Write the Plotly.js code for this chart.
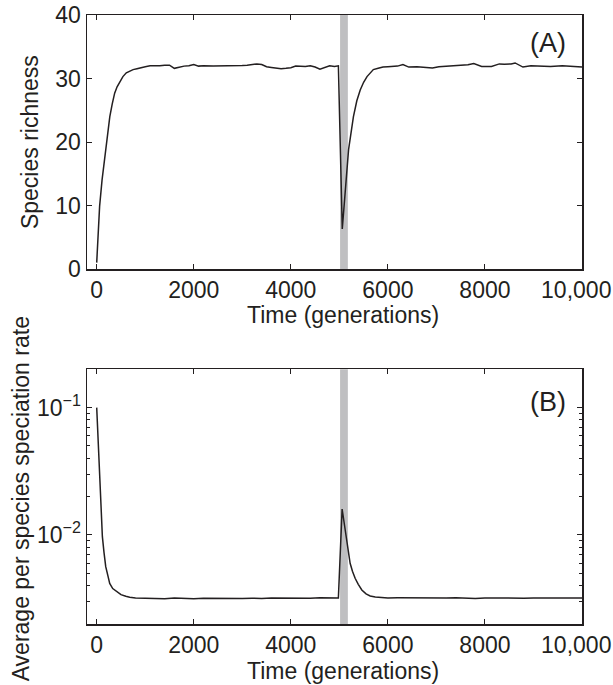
<!DOCTYPE html>
<html>
<head>
<meta charset="utf-8">
<script src="https://cdn.plot.ly/plotly-3.0.1.min.js"></script>
<style>html,body{margin:0;padding:0;background:#fff;}#chart{width:613px;height:685px;}</style>
</head>
<body>
<div id="chart"></div>
<script>
// Panel A: species richness over time
const timeA = [0,60,110,165,215,270,320,370,420,475,540,610,680,750,830,920,1000,1100,1200,1300,1400,1500,1600,1700,1800,1900,2000,2100,2200,2400,2600,2800,3000,3100,3200,3300,3400,3500,3600,3700,3800,3900,4000,4100,4200,4300,4400,4500,4600,4700,4800,4900,4980,5060,5120,5190,5290,5360,5430,5500,5570,5640,5700,5800,5900,6000,6107,6200,6310,6431,6600,6756,6918,7050,7161,7300,7405,7567,7650,7770,7932,8135,8297,8400,8540,8621,8783,8946,9150,9351,9594,9838,10000];
const richness = [1,9.9,14,17.7,21,24,26,27.7,28.7,29.5,30.3,30.9,31.2,31.4,31.55,31.65,31.85,32.0,31.95,32.0,32.1,32.1,31.6,31.8,31.95,32.0,32.2,31.95,32.0,31.95,31.95,31.95,32.05,32.1,32.15,32.3,32.2,31.85,31.75,31.65,31.55,31.6,31.7,31.95,31.9,31.9,32.0,31.8,31.45,31.75,32.0,31.9,32.0,6.3,12.5,18.8,24.0,26.5,28.2,29.4,30.3,30.9,31.4,31.6,31.8,31.85,31.9,31.95,32.2,31.8,31.85,31.75,31.65,31.85,31.9,32.0,32.05,32.05,32.15,32.35,31.9,31.9,32.3,32.25,32.3,32.45,31.8,32.0,31.95,31.9,32.0,31.95,31.8];

// Panel B: average per species speciation rate
const timeB = [0,25,48,65,83,117,150,186,230,268,330,406,500,600,681,800,1000,1200,1400,1600,1800,2000,2200,2400,2600,2800,3000,3200,3400,3600,3800,4000,4200,4400,4600,4800,4980,5057,5100,5140,5180,5222,5270,5325,5390,5463,5550,5635,5740,5841,6000,6200,6400,6600,6800,7000,7200,7400,7600,7800,8000,8200,8400,8600,8800,9000,9200,9400,9600,9800,10000];
const rate = [0.1,0.06,0.0366,0.022,0.0148,0.0097,0.0073,0.00564,0.0048,0.00417,0.0038,0.00359,0.0034,0.0033,0.00324,0.0032,0.00318,0.00319,0.00316,0.0032,0.00317,0.00316,0.00319,0.00318,0.0032,0.00317,0.00317,0.00319,0.00317,0.0032,0.00319,0.00321,0.00318,0.00318,0.00322,0.00319,0.0032,0.016,0.0125,0.0091,0.0073,0.006,0.0052,0.00457,0.0041,0.0037,0.00345,0.00332,0.00326,0.00323,0.0032,0.00321,0.0032,0.00319,0.0032,0.00318,0.0032,0.00321,0.00319,0.00317,0.0032,0.00319,0.00318,0.00317,0.00319,0.0032,0.00321,0.0032,0.00319,0.0032,0.0032];

// Event band (generations)
const eventStart = 5015, eventEnd = 5175;

// Tick labels
const xTickVals = [0,2000,4000,6000,8000,10000];
const xTickText = ['0','2000','4000','6000','8000','10,000\u2002'];
const yATickVals = [0,10,20,30,40];
const yBTickVals = [0.01,0.1];
const yBTickText = ['10<sup>\u22122</sup>','10<sup>\u22121</sup>'];
const yBMinorVals = [0.002,0.003,0.004,0.005,0.006,0.007,0.008,0.009,0.02,0.03,0.04,0.05,0.06,0.07,0.08,0.09,0.2];

const ink = '#231f20';
const FONT = 'Liberation Sans, Arial, sans-serif';

const traces = [
  {x: timeA, y: richness, type:'scatter', mode:'lines', xaxis:'x', yaxis:'y',
   line:{color:ink, width:1.5}, hoverinfo:'skip'},
  {x: timeB, y: rate, type:'scatter', mode:'lines', xaxis:'x2', yaxis:'y2',
   line:{color:ink, width:1.5}, hoverinfo:'skip'}
];

const axCommon = {
  showgrid:false, zeroline:false, showline:true, linecolor:ink, linewidth:1.5,
  mirror:'ticks', ticks:'inside', ticklen:5, tickwidth:1, tickcolor:ink,
  ticklabeloverflow:'allow',
  tickfont:{family:FONT, size:23, color:ink}
};

const layout = {
  width:613, height:685,
  margin:{l:87, r:31, t:15, b:61},
  paper_bgcolor:'#fff', plot_bgcolor:'#fff',
  showlegend:false,
  font:{family:FONT, color:ink},
  xaxis: Object.assign({}, axCommon, {domain:[0,1], anchor:'y', range:[-200,10000],
     tickmode:'array', tickvals:xTickVals, ticktext:xTickText}),
  yaxis: Object.assign({}, axCommon, {domain:[0.5829,1], anchor:'x', range:[0,40],
     tickmode:'array', tickvals:yATickVals}),
  xaxis2: Object.assign({}, axCommon, {domain:[0,1], anchor:'y2', range:[-200,10000],
     tickmode:'array', tickvals:xTickVals, ticktext:xTickText}),
  yaxis2: Object.assign({}, axCommon, {domain:[0,0.4182], anchor:'x2', type:'log',
     range:[Math.log10(0.002), Math.log10(0.2)],
     tickmode:'array', tickvals:yBTickVals, ticktext:yBTickText,
     minor:{tickmode:'array', tickvals:yBMinorVals, ticks:'inside', ticklen:3, tickcolor:ink, tickwidth:1}}),
  shapes: [
    {type:'rect', xref:'x', yref:'y domain', x0:eventStart, x1:eventEnd, y0:0, y1:1,
     fillcolor:'#bfbfc1', line:{width:0}, layer:'below'},
    {type:'rect', xref:'x2', yref:'y2 domain', x0:eventStart, x1:eventEnd, y0:0, y1:1,
     fillcolor:'#bfbfc1', line:{width:0}, layer:'below'}
  ],
  annotations: [
    {text:'(A)', xref:'paper', yref:'paper', x:0.931, y:0.954, xanchor:'center', yanchor:'middle',
     showarrow:false, font:{family:FONT, size:27, color:ink}},
    {text:'(B)', xref:'paper', yref:'paper', x:0.931, y:0.365, xanchor:'center', yanchor:'middle',
     showarrow:false, font:{family:FONT, size:27, color:ink}},
    {text:'Time (generations)', xref:'paper', yref:'paper', x:0.517, y:0.5066, xanchor:'center', yanchor:'middle',
     showarrow:false, font:{family:FONT, size:23, color:ink}},
    {text:'Time (generations)', xref:'paper', yref:'paper', x:0.517, y:-0.0764, xanchor:'center', yanchor:'middle',
     showarrow:false, font:{family:FONT, size:23, color:ink}},
    {text:'Species richness', xref:'paper', yref:'paper', x:-0.115, y:0.7915, xanchor:'center', yanchor:'middle',
     textangle:-90, showarrow:false, font:{family:FONT, size:23, color:ink}},
    {text:'Average per species speciation rate', xref:'paper', yref:'paper', x:-0.133, y:0.205, xanchor:'center', yanchor:'middle',
     textangle:-90, showarrow:false, font:{family:FONT, size:23, color:ink}}
  ]
};

Plotly.newPlot('chart', traces, layout, {staticPlot:true, displayModeBar:false});
</script>
</body>
</html>
